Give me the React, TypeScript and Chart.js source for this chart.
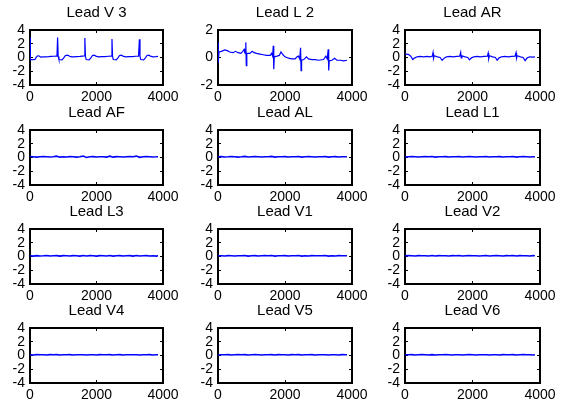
import React, { useEffect, useRef } from "react";
import { Chart, registerables } from "chart.js";

Chart.register(...registerables);

// ---------- data ----------
const TITLES = [
  "Lead V 3", "Lead L 2", "Lead AR",
  "Lead AF", "Lead AL", "Lead L1",
  "Lead L3", "Lead V1", "Lead V2",
  "Lead V4", "Lead V5", "Lead V6",
];

const X_TICKS = [0, 2000, 4000];
const Y_TICKS_WIDE = [-4, -2, 0, 2, 4];
const Y_TICKS_NARROW = [-2, 0, 2];

const V3_X = [0, 12, 80, 150, 190, 230, 280, 320, 400, 480, 560, 640, 720, 790, 812, 830, 848, 870, 960, 1010, 1060, 1110, 1160, 1210, 1300, 1400, 1500, 1580, 1630, 1650, 1668, 1690, 1780, 1830, 1880, 1930, 1980, 2060, 2160, 2260, 2360, 2440, 2465, 2483, 2505, 2595, 2645, 2695, 2745, 2795, 2880, 2980, 3080, 3180, 3265, 3290, 3308, 3330, 3420, 3470, 3520, 3570, 3620, 3700, 3780, 3850];
const V3_Y = [2.9, -0.3, -0.3, -0.28, 0.05, 0.25, 0.22, 0.05, 0.08, 0.1, 0.12, 0.15, 0.18, 0.2, 0.25, 2.9, 0.15, -0.3, -0.35, -0.1, 0.25, 0.35, 0.28, 0.12, 0.1, 0.12, 0.15, 0.2, 0.22, 2.85, 0.15, -0.3, -0.35, -0.05, 0.3, 0.35, 0.2, 0.1, 0.12, 0.14, 0.18, 0.2, 2.7, 0.15, -0.3, -0.35, -0.05, 0.3, 0.35, 0.2, 0.1, 0.12, 0.14, 0.18, 0.2, 2.65, 0.15, -0.3, -0.35, -0.05, 0.3, 0.35, 0.2, 0.1, 0.12, 0.15];

const L2_X = [0, 8, 30, 100, 200, 280, 350, 450, 520, 600, 680, 740, 780, 800, 815, 830, 845, 860, 950, 1020, 1080, 1150, 1250, 1350, 1450, 1560, 1600, 1630, 1650, 1665, 1680, 1760, 1830, 1880, 1940, 2000, 2100, 2200, 2300, 2360, 2400, 2440, 2465, 2480, 2495, 2560, 2640, 2700, 2800, 2900, 3000, 3150, 3220, 3260, 3290, 3305, 3320, 3400, 3480, 3550, 3650, 3750, 3850];
const L2_Y = [1.1, -0.4, 0.4, 0.45, 0.55, 0.5, 0.4, 0.35, 0.45, 0.35, 0.3, 0.45, 0.6, 0.35, 0.3, 1.1, -0.6, 0.3, 0.3, 0.45, 0.35, 0.3, 0.25, 0.2, 0.15, 0.15, 0.3, 0.1, 0.85, -0.85, 0.05, 0.1, 0.15, 0.4, 0.2, 0.05, -0.05, -0.1, -0.1, 0.05, 0.1, -0.1, 0.7, -0.95, -0.2, -0.15, 0.05, -0.1, -0.15, -0.15, -0.2, -0.15, 0.1, -0.1, 0.6, -0.95, -0.25, -0.2, -0.05, -0.2, -0.2, -0.25, -0.2];

const AR_X = [0, 100, 170, 230, 290, 360, 450, 550, 650, 740, 810, 830, 845, 865, 960, 1040, 1100, 1160, 1230, 1330, 1430, 1530, 1620, 1650, 1665, 1685, 1780, 1860, 1910, 1970, 2040, 2140, 2240, 2340, 2440, 2465, 2480, 2500, 2600, 2680, 2730, 2790, 2860, 2960, 3060, 3160, 3260, 3290, 3305, 3325, 3420, 3500, 3560, 3620, 3700, 3780, 3850];
const AR_Y = [0.5, 0.45, 0.2, -0.3, -0.05, 0.1, 0.15, 0.1, 0.15, 0.1, 0.2, 0.7, -0.1, 0.25, 0.1, 0.0, -0.4, -0.1, 0.1, 0.15, 0.1, 0.15, 0.2, 0.75, -0.05, 0.25, 0.1, 0.0, -0.35, -0.05, 0.1, 0.15, 0.1, 0.15, 0.2, 0.65, -0.15, 0.25, 0.1, 0.0, -0.4, -0.05, 0.1, 0.15, 0.1, 0.15, 0.2, 0.7, -0.1, 0.25, 0.1, 0.0, -0.45, -0.05, 0.1, 0.05, 0.1];

const FLAT_X = [0, 100, 200, 300, 400, 500, 600, 700, 800, 900, 1000, 1100, 1200, 1300, 1400, 1500, 1600, 1700, 1800, 1900, 2000, 2100, 2200, 2300, 2400, 2500, 2600, 2700, 2800, 2900, 3000, 3100, 3200, 3300, 3400, 3500, 3600, 3700, 3800, 3850];
const AF_Y = [0.15, 0.1, 0.05, 0.1, 0.12, 0.1, 0.08, 0.1, 0.2, 0.05, 0.1, 0.08, 0.12, 0.1, 0.06, 0.1, 0.2, 0.0, 0.1, 0.12, 0.08, 0.1, 0.1, 0.06, 0.2, 0.05, 0.12, 0.1, 0.08, 0.1, 0.12, 0.1, 0.2, 0.02, 0.1, 0.12, 0.1, 0.08, 0.1, 0.12];
const AL_Y = [0.1, 0.12, 0.08, 0.1, 0.14, 0.1, 0.06, 0.1, 0.16, 0.08, 0.1, 0.12, 0.1, 0.08, 0.1, 0.12, 0.16, 0.06, 0.1, 0.1, 0.12, 0.08, 0.1, 0.1, 0.15, 0.06, 0.1, 0.12, 0.1, 0.08, 0.1, 0.12, 0.15, 0.06, 0.1, 0.12, 0.08, 0.1, 0.1, 0.12];
const L1_Y = [0.08, 0.1, 0.12, 0.1, 0.08, 0.1, 0.12, 0.1, 0.14, 0.06, 0.1, 0.1, 0.12, 0.08, 0.1, 0.1, 0.14, 0.08, 0.1, 0.12, 0.1, 0.08, 0.1, 0.12, 0.14, 0.08, 0.1, 0.1, 0.12, 0.08, 0.1, 0.1, 0.14, 0.06, 0.1, 0.12, 0.1, 0.08, 0.1, 0.1];
const L3_Y = [0.1, 0.06, 0.12, 0.08, 0.1, 0.14, 0.08, 0.1, 0.12, 0.06, 0.12, 0.1, 0.08, 0.12, 0.1, 0.06, 0.14, 0.08, 0.12, 0.1, 0.06, 0.12, 0.1, 0.08, 0.14, 0.06, 0.1, 0.12, 0.08, 0.1, 0.12, 0.06, 0.14, 0.08, 0.1, 0.12, 0.08, 0.1, 0.06, 0.1];
const V1_Y = [0.12, 0.1, 0.08, 0.12, 0.1, 0.08, 0.1, 0.12, 0.15, 0.06, 0.1, 0.12, 0.08, 0.1, 0.12, 0.1, 0.15, 0.06, 0.1, 0.1, 0.12, 0.08, 0.1, 0.12, 0.15, 0.06, 0.1, 0.08, 0.12, 0.1, 0.1, 0.12, 0.15, 0.06, 0.1, 0.08, 0.12, 0.1, 0.1, 0.12];
const V2_Y = [0.1, 0.12, 0.1, 0.08, 0.12, 0.1, 0.1, 0.08, 0.14, 0.08, 0.12, 0.1, 0.1, 0.08, 0.12, 0.1, 0.14, 0.08, 0.1, 0.12, 0.1, 0.1, 0.08, 0.12, 0.14, 0.08, 0.1, 0.12, 0.1, 0.08, 0.12, 0.1, 0.14, 0.08, 0.12, 0.1, 0.1, 0.08, 0.12, 0.1];
const V4_Y = [0.1, 0.08, 0.12, 0.1, 0.1, 0.08, 0.12, 0.1, 0.12, 0.08, 0.1, 0.1, 0.12, 0.08, 0.1, 0.12, 0.12, 0.08, 0.1, 0.1, 0.08, 0.12, 0.1, 0.1, 0.12, 0.08, 0.1, 0.12, 0.08, 0.1, 0.1, 0.12, 0.12, 0.08, 0.1, 0.1, 0.12, 0.08, 0.1, 0.1];
const V5_Y = [0.08, 0.1, 0.1, 0.12, 0.08, 0.1, 0.12, 0.1, 0.12, 0.08, 0.1, 0.12, 0.1, 0.08, 0.1, 0.1, 0.12, 0.08, 0.12, 0.1, 0.1, 0.08, 0.12, 0.1, 0.12, 0.08, 0.1, 0.1, 0.12, 0.08, 0.1, 0.12, 0.12, 0.08, 0.1, 0.1, 0.08, 0.12, 0.1, 0.1];
const V6_Y = [0.1, 0.1, 0.12, 0.08, 0.1, 0.12, 0.1, 0.08, 0.12, 0.08, 0.1, 0.1, 0.12, 0.1, 0.08, 0.12, 0.12, 0.08, 0.1, 0.12, 0.1, 0.08, 0.1, 0.12, 0.12, 0.08, 0.1, 0.1, 0.08, 0.12, 0.1, 0.1, 0.12, 0.08, 0.1, 0.12, 0.1, 0.1, 0.08, 0.1];

const SERIES_X = [V3_X, L2_X, AR_X, FLAT_X, FLAT_X, FLAT_X, FLAT_X, FLAT_X, FLAT_X, FLAT_X, FLAT_X, FLAT_X];
const SERIES_Y = [V3_Y, L2_Y, AR_Y, AF_Y, AL_Y, L1_Y, L3_Y, V1_Y, V2_Y, V4_Y, V5_Y, V6_Y];
const Y_TICKS = [Y_TICKS_WIDE, Y_TICKS_NARROW, Y_TICKS_WIDE, Y_TICKS_WIDE, Y_TICKS_WIDE, Y_TICKS_WIDE, Y_TICKS_WIDE, Y_TICKS_WIDE, Y_TICKS_WIDE, Y_TICKS_WIDE, Y_TICKS_WIDE, Y_TICKS_WIDE];

// ---------- layout ----------
const COL_LEFT = [30, 218, 405];
const COL_W = [133, 134, 135];
const ROW_TOP = [30, 130, 229, 328];
const PLOT_H = 55;
const SIDE = 30;
const TITLE_AREA = 30;
const X_AXIS_H = 22;
const TICK_LEN = 3;
const FONT = "'Liberation Sans', Arial, Helvetica, sans-serif";

const boxGrid = {
  display: true,
  drawOnChartArea: false,
  drawTicks: true,
  tickLength: -TICK_LEN,
  color: "#000",
  lineWidth: 1,
};
const boxBorder = { display: true, color: "#000000", width: 2 };

export default function App() {
  const refs = useRef<(HTMLCanvasElement | null)[]>([]);

  useEffect(() => {
    const charts: Chart[] = [];
    for (let i = 0; i < 12; i++) {
      const canvas = refs.current[i];
      if (!canvas) continue;
      const xsArr = SERIES_X[i];
      const ysArr = SERIES_Y[i];
      const yt = Y_TICKS[i];
      const data = xsArr.map((x, k) => ({ x, y: ysArr[k] }));
      const chart = new Chart(canvas, {
        type: "line",
        data: {
          datasets: [
            {
              data,
              borderColor: "#0000ff",
              borderWidth: i < 3 ? 1.2 : 1.6,
              pointRadius: 0,
              tension: 0,
              fill: false,
              xAxisID: "x",
              yAxisID: "y",
            },
          ],
        },
        options: {
          animation: false,
          responsive: false,
          devicePixelRatio: 1,
          layout: { padding: 0 },
          plugins: {
            legend: { display: false },
            tooltip: { enabled: false },
            title: {
              display: true,
              text: TITLES[i],
              color: "#000",
              font: { family: FONT, size: 15, weight: "normal" },
              padding: { top: 4, bottom: TITLE_AREA - 4 - 18 },
            },
          },
          scales: {
            x: {
              type: "linear",
              position: "bottom",
              min: 0,
              max: 4000,
              afterBuildTicks: (s: any) => {
                s.ticks = X_TICKS.map((v) => ({ value: v }));
              },
              afterFit: (s: any) => {
                s.height = X_AXIS_H;
              },
              grid: boxGrid,
              border: boxBorder,
              ticks: {
                color: "#000",
                padding: 4 + TICK_LEN,
                maxRotation: 0,
                autoSkip: false,
                font: { family: FONT, size: 14 },
                callback: (v: any) => String(v),
              },
            },
            xTop: {
              type: "linear",
              position: "top",
              min: 0,
              max: 4000,
              afterBuildTicks: (s: any) => {
                s.ticks = X_TICKS.map((v) => ({ value: v }));
              },
              afterFit: (s: any) => {
                s.height = 0;
              },
              grid: boxGrid,
              border: boxBorder,
              ticks: { display: false },
            },
            y: {
              type: "linear",
              position: "left",
              min: yt[0],
              max: yt[yt.length - 1],
              afterBuildTicks: (s: any) => {
                s.ticks = yt.map((v) => ({ value: v }));
              },
              afterFit: (s: any) => {
                s.width = SIDE;
              },
              grid: boxGrid,
              border: boxBorder,
              ticks: {
                color: "#000",
                padding: 5 + TICK_LEN,
                autoSkip: false,
                font: { family: FONT, size: 14 },
                callback: (v: any) => String(v),
              },
            },
            yRight: {
              type: "linear",
              position: "right",
              min: yt[0],
              max: yt[yt.length - 1],
              afterBuildTicks: (s: any) => {
                s.ticks = yt.map((v) => ({ value: v }));
              },
              afterFit: (s: any) => {
                s.width = SIDE;
              },
              grid: boxGrid,
              border: boxBorder,
              ticks: { display: false },
            },
          },
        } as any,
      });
      charts.push(chart);
    }
    return () => charts.forEach((c) => c.destroy());
  }, []);

  const canvases = [];
  for (let i = 0; i < 12; i++) {
    const r = Math.floor(i / 3);
    const c = i % 3;
    const w = COL_W[c] + 2 * SIDE;
    const h = TITLE_AREA + PLOT_H + X_AXIS_H;
    canvases.push(
      <canvas
        key={i}
        ref={(el) => {
          refs.current[i] = el;
        }}
        width={w}
        height={h}
        style={{
          position: "absolute",
          left: COL_LEFT[c] - SIDE,
          top: ROW_TOP[r] - TITLE_AREA,
          width: w,
          height: h,
        }}
      />
    );
  }

  return (
    <div
      style={{
        position: "absolute",
        left: 0,
        top: 0,
        width: 562,
        height: 405,
        background: "#fff",
        overflow: "hidden",
      }}
    >
      {canvases}
    </div>
  );
}
